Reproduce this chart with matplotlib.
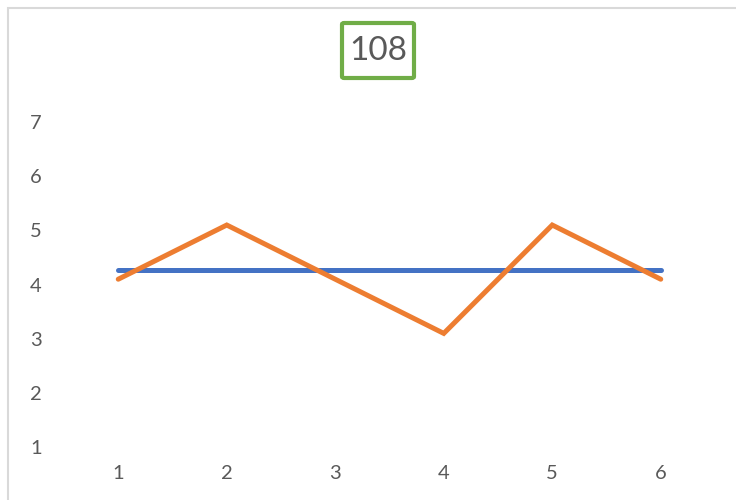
import matplotlib.pyplot as plt
from matplotlib.patches import Rectangle, FancyBboxPatch

plt.rcParams['font.family'] = ['Lato', 'DejaVu Sans']

points = [1, 2, 3, 4, 5, 6]
values = [4.1, 5.1, 4.1, 3.1, 5.1, 4.1]
average = [sum(values) / len(values)] * len(points)
title = '108'

W, H = 736, 500
fig = plt.figure(figsize=(W / 100, H / 100), dpi=100)

# chart frame, only the top and left edges fall inside the picture
fig.patches.append(Rectangle((8 / W, -0.1), 1.2, (H - 8) / H + 0.1,
                             transform=fig.transFigure, fill=False,
                             edgecolor='#d9d9d9', linewidth=1.5))

ax = fig.add_axes([64 / W, 1 - 458 / H, (715 - 64) / W, (458 - 95) / H])
ax.plot(points, average, color='#4472c4', linewidth=3.6, solid_capstyle='round')
ax.plot(points, values, color='#ed7d31', linewidth=3.6,
        solid_capstyle='round', solid_joinstyle='miter')

ax.set_xlim(0.5, 6.5)
ax.set_ylim(0.8, 7.5)
ax.set_xticks(points)
ax.set_yticks(range(1, 8))
ax.tick_params(length=0, labelsize=14.5, labelcolor='#595959')
ax.tick_params(axis='y', pad=16)
ax.tick_params(axis='x', pad=5)
for s in ax.spines.values():
    s.set_visible(False)

# boxed title
fig.patches.append(FancyBboxPatch((342 / W, 1 - 78 / H), 72 / W, 55 / H,
                                  boxstyle='round,pad=0,rounding_size=0.003',
                                  transform=fig.transFigure, fill=False,
                                  edgecolor='#70ad47', linewidth=3))
fig.text(378 / W, 1 - 51 / H, title, ha='center', va='center',
         fontsize=24, color='#595959')

fig.savefig('out.png', dpi=100)
